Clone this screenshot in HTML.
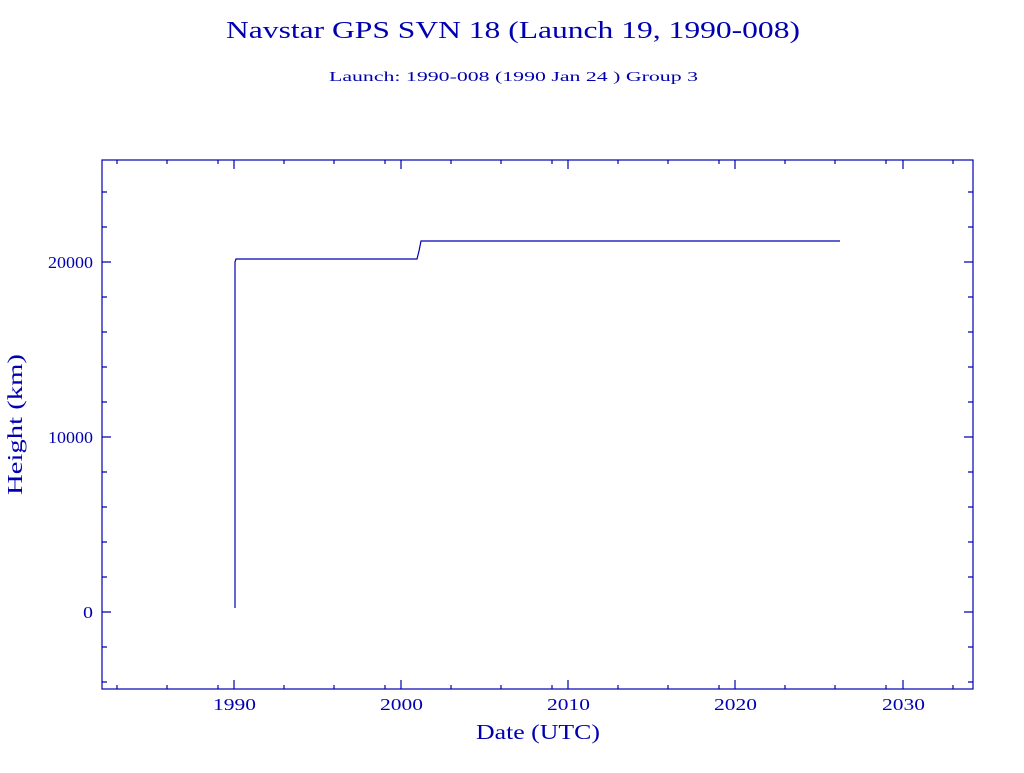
<!DOCTYPE html>
<html><head><meta charset="utf-8"><style>body{margin:0;background:#fff}</style></head><body>
<svg width="1024" height="768" xmlns="http://www.w3.org/2000/svg" font-family="Liberation Serif, serif" fill="#0000b0">
<text x="226" y="38" font-size="24" textLength="574" lengthAdjust="spacingAndGlyphs">Navstar GPS SVN 18 (Launch 19, 1990-008)</text>
<text x="329" y="81" font-size="14" textLength="369" lengthAdjust="spacingAndGlyphs">Launch: 1990-008  (1990 Jan 24 )  Group 3</text>
<g stroke="#0000b0" stroke-width="1.2" fill="none">
<rect x="102" y="160" width="871" height="529"/>
<path d="M102 262h9M973 262h-9M102 437h9M973 437h-9M102 612h9M973 612h-9"/>
<path d="M102 192h5M102 227h5M102 297h5M102 332h5M102 367h5M102 402h5M102 472h5M102 507h5M102 542h5M102 577h5M102 647h5M102 682h5
M973 192h-5M973 227h-5M973 297h-5M973 332h-5M973 367h-5M973 402h-5M973 472h-5M973 507h-5M973 542h-5M973 577h-5M973 647h-5M973 682h-5"/>
<path d="M234 689v-9M401 689v-9M568 689v-9M735 689v-9M903 689v-9M234 160v9M401 160v9M568 160v9M735 160v9M903 160v9"/>
<path d="M117 689v-4M167 689v-4M218 689v-4M284 689v-4M334 689v-4M385 689v-4M451 689v-4M501 689v-4M552 689v-4M618 689v-4M668 689v-4M719 689v-4M785 689v-4M835 689v-4M886 689v-4M953 689v-4
M117 160v4M167 160v4M218 160v4M284 160v4M334 160v4M385 160v4M451 160v4M501 160v4M552 160v4M618 160v4M668 160v4M719 160v4M785 160v4M835 160v4M886 160v4M953 160v4"/>
<path d="M235 608V262l1-3H417l2-8l2-10H840"/>
</g>
<g font-size="17">
<text x="48" y="268" textLength="45" lengthAdjust="spacingAndGlyphs">20000</text>
<text x="48" y="443" textLength="45" lengthAdjust="spacingAndGlyphs">10000</text>
<text x="83" y="618" textLength="10" lengthAdjust="spacingAndGlyphs">0</text>
<text x="213" y="710" textLength="43" lengthAdjust="spacingAndGlyphs">1990</text>
<text x="380" y="710" textLength="43" lengthAdjust="spacingAndGlyphs">2000</text>
<text x="547" y="710" textLength="43" lengthAdjust="spacingAndGlyphs">2010</text>
<text x="714" y="710" textLength="43" lengthAdjust="spacingAndGlyphs">2020</text>
<text x="882" y="710" textLength="43" lengthAdjust="spacingAndGlyphs">2030</text>
</g>
<text x="476" y="739" font-size="21" textLength="124" lengthAdjust="spacingAndGlyphs">Date (UTC)</text>
<text transform="translate(22,495) rotate(-90)" font-size="21" textLength="141" lengthAdjust="spacingAndGlyphs">Height (km)</text>
</svg>
</body></html>
